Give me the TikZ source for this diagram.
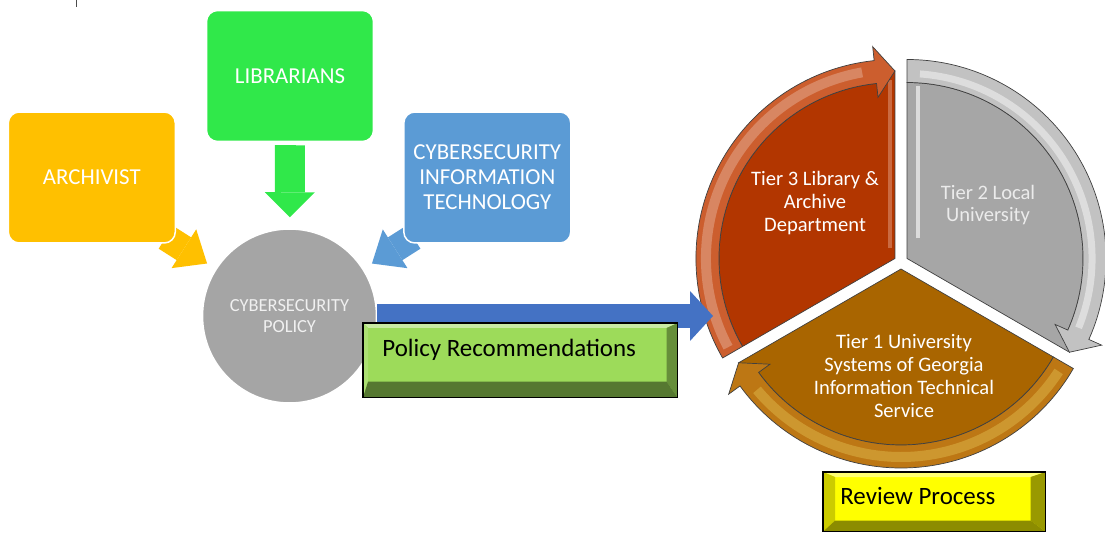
\documentclass[tikz,border=0pt]{standalone}
\usepackage{fontspec}
\setmainfont{Carlito}
\usetikzlibrary{arrows.meta,backgrounds}

\definecolor{archgold}{HTML}{FFC000}
\definecolor{libgreen}{HTML}{30E84A}
\definecolor{itblue}{HTML}{5B9BD5}
\definecolor{policygray}{HTML}{A5A5A5}
\definecolor{flowblue}{HTML}{4472C4}
\definecolor{recgreen}{HTML}{9DDB5A}
\definecolor{reviewyellow}{HTML}{FFFF00}
\definecolor{tierred}{HTML}{B23600}
\definecolor{tierredring}{HTML}{CC5E2E}
\definecolor{tiergray}{HTML}{A6A6A6}
\definecolor{tiergrayring}{HTML}{C2C2C2}
\definecolor{tierbrown}{HTML}{A96500}
\definecolor{tierbrownring}{HTML}{BD7714}

\tikzset{
    group/.style = {
        rectangle,
        rounded corners=2.2mm,
        draw=white,
        line width=0.3mm,
        minimum width=33.4mm,
        minimum height=26.2mm,
        inner sep=1mm,
        text=white,
        align=center,
        font=\fontsize{13}{14.2}\selectfont
    },
    core/.style = {
        circle,
        fill=policygray,
        draw=white,
        line width=0.3mm,
        minimum size=34.8mm,
        text=white!94!black,
        align=center,
        font=\fontsize{10.5}{11.9}\selectfont
    },
    feed/.style = {
        draw=#1,
        line width=5.4mm,
        -{Triangle[length=5.5mm 0 0, width=9.2mm 0 0, line width=0pt 0 0]}
    },
    flow/.style = {
        draw=flowblue,
        line width=4.8mm,
        -{Triangle[length=4.6mm 0 0, width=10mm 0 0, line width=0pt 0 0]}
    },
    bevelbox/.style = {
        rectangle,
        inner sep=0pt,
        anchor=north west
    },
    tagtext/.style = {
        anchor=base west,
        inner sep=0pt,
        font=\fontsize{14.2}{17}\selectfont
    },
    tiertext/.style = {
        text=white,
        align=center,
        font=\fontsize{11.7}{13}\selectfont
    },
    edge/.style = {
        draw=black!75,
        line width=0.4pt
    },
    gloss/.style = {
        draw=#1,
        opacity=0.25,
        line width=2mm
    }
}

\begin{document}
\begin{tikzpicture}[x=0.02cm, y=-0.02cm]
    \useasboundingbox (0,0) rectangle (1105,533);

    % small mark in the corner
    \draw[black!70, line width=0.3mm] (76.5,0) -- (76.5,7);

    % Groups around the policy
    \node[group, fill=archgold] (archivist) at (91.8,177.5) {ARCHIVIST};
    \node[group, fill=libgreen] (librarians) at (290,76) {LIBRARIANS};
    \node[group, fill=itblue] (cyberit) at (487.3,177.5) {CYBERSECURITY\\INFORMATION\\TECHNOLOGY};
    \node[core] (cpolicy) at (289.5,316) {CYBERSECURITY\\POLICY};

    % Arrows into the policy (behind the shapes)
    \begin{scope}[on background layer]
        \draw[feed=archgold, shorten <=-2.4mm, shorten >=2mm] (archivist.south east) -- (cpolicy);
        \draw[feed=itblue, shorten <=-2.4mm, shorten >=2mm] (cyberit.south west) -- (cpolicy);
        \draw[feed=libgreen, line width=6mm, -{Triangle[length=5mm 0 0, width=10mm 0 0, line width=0pt 0 0]},
            shorten <=0.6mm, shorten >=2.2mm] (librarians.south) -- (cpolicy);
    \end{scope}

    % Review cycle
    \begin{scope}[shift={(901,262)}, yscale=-1]
        % Tier 3 segment
        \begin{scope}[shift={(150:7)}]
            \fill[tierred, edge] (0,0) -- (90:187.5) -- (96:176) arc[start angle=96, end angle=210, radius=176] -- cycle;
            \draw[tierredring!70!white, opacity=0.6, line width=0.8mm] (-5,10) -- (-5,178);
            \fill[tierredring, edge] (210:199) arc[start angle=210, end angle=96, radius=199]
                -- (96:213) -- (90:187.5) -- (96:162) -- (96:176)
                arc[start angle=96, end angle=210, radius=176] -- cycle;
            \draw[gloss=white] (208:189) arc[start angle=208, end angle=100, radius=189];
        \end{scope}
        % Tier 2 segment
        \begin{scope}[shift={(30:7)}]
            \fill[tiergray, edge] (0,0) -- (-30:187.5) -- (-24:176) arc[start angle=-24, end angle=90, radius=176] -- cycle;
            \draw[white, opacity=0.6, line width=0.8mm] (11,20) -- (11,172);
            \fill[tiergrayring, edge] (90:199) arc[start angle=90, end angle=-24, radius=199]
                -- (-24:213) -- (-30:187.5) -- (-24:162) -- (-24:176)
                arc[start angle=-24, end angle=90, radius=176] -- cycle;
            \draw[gloss=white, opacity=0.45, line width=1.4mm] (86:185) arc[start angle=86, end angle=-22, radius=185];
        \end{scope}
        % Tier 1 segment
        \begin{scope}[shift={(-90:7)}]
            \fill[tierbrown, edge] (0,0) -- (-150:187.5) -- (-144:176) arc[start angle=-144, end angle=-30, radius=176] -- cycle;
            \fill[tierbrownring, edge] (-30:199) arc[start angle=-30, end angle=-144, radius=199]
                -- (-144:213) -- (-150:187.5) -- (-144:162) -- (-144:176)
                arc[start angle=-144, end angle=-30, radius=176] -- cycle;
            \draw[gloss=yellow!50!white] (-33:188) arc[start angle=-33, end angle=-140, radius=188];
        \end{scope}
    \end{scope}

    \node[tiertext] (tier3) at (815,203) {Tier 3 Library \&\\Archive\\Department};
    \node[tiertext, text=white!92!black] (tier2) at (988,205) {Tier 2 Local\\University};
    \node[tiertext] (tier1) at (904,376) {Tier 1 University\\Systems of Georgia\\Information Technical\\Service};

    % Policy goes on to the cycle
    \coordinate (t3in) at (713,316);
    \draw[flow] (cpolicy.east) -- (t3in);

    % Policy Recommendations
    \node[bevelbox, fill=recgreen, minimum width=62.8mm, minimum height=14.8mm] (recs) at (363,323) {};
    \fill[recgreen!55!white] (recs.north west) -- (recs.north east) -- ([shift={(-11,5)}]recs.north east) -- ([shift={(5,5)}]recs.north west) -- cycle;
    \fill[recgreen!85!white] (recs.north west) -- ([shift={(5,5)}]recs.north west) -- ([shift={(5,-16)}]recs.south west) -- (recs.south west) -- cycle;
    \fill[recgreen!65!black] (recs.north east) -- (recs.south east) -- ([shift={(-11,-16)}]recs.south east) -- ([shift={(-11,5)}]recs.north east) -- cycle;
    \fill[recgreen!55!black] (recs.south west) -- (recs.south east) -- ([shift={(-11,-16)}]recs.south east) -- ([shift={(5,-16)}]recs.south west) -- cycle;
    \draw[black, line width=0.3mm] (recs.north west) rectangle (recs.south east);
    \node[tagtext] (recslabel) at (382,357) {Policy Recommendations};

    % Review Process
    \node[bevelbox, fill=reviewyellow, minimum width=44.4mm, minimum height=11.8mm] (review) at (823,472) {};
    \fill[reviewyellow!55!white] (review.north west) -- (review.north east) -- ([shift={(-15,5)}]review.north east) -- ([shift={(12,5)}]review.north west) -- cycle;
    \fill[reviewyellow!80!black] (review.north west) -- ([shift={(12,5)}]review.north west) -- ([shift={(12,-11)}]review.south west) -- (review.south west) -- cycle;
    \fill[reviewyellow!60!black] (review.north east) -- (review.south east) -- ([shift={(-15,-11)}]review.south east) -- ([shift={(-15,5)}]review.north east) -- cycle;
    \fill[reviewyellow!55!black] (review.south west) -- (review.south east) -- ([shift={(-15,-11)}]review.south east) -- ([shift={(12,-11)}]review.south west) -- cycle;
    \draw[black, line width=0.3mm] (review.north west) rectangle (review.south east);
    \node[tagtext] (reviewlabel) at (840,504) {Review Process};
\end{tikzpicture}
\end{document}
